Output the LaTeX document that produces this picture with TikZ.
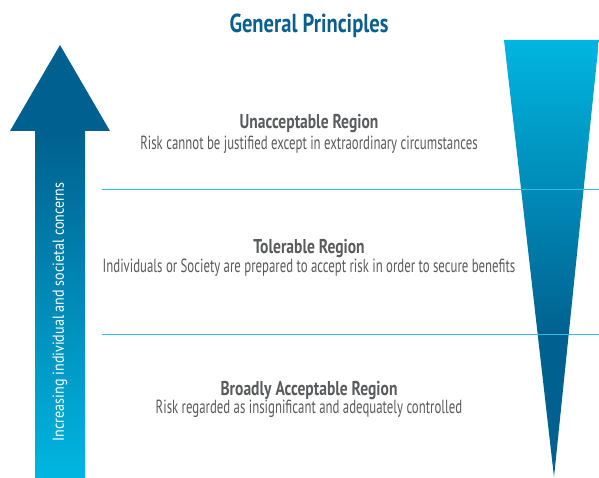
\documentclass[tikz,border=0pt]{standalone}
\usepackage{fontspec}
\setmainfont{PT Sans}
\newfontfamily\condf[FakeStretch=0.674]{PT Sans}
\newfontfamily\condb[FakeStretch=0.777]{PT Sans Bold}
\newfontfamily\titlef[FakeStretch=0.79]{PT Sans Bold}
\newfontfamily\axisf[FakeStretch=0.88]{PT Sans}
\definecolor{darkb}{HTML}{00608F}
\definecolor{cyanl}{HTML}{00B6E0}
\definecolor{txtc}{HTML}{5A5B5D}
\definecolor{linec}{HTML}{2BBDE3}
\definecolor{titlec}{HTML}{0B5F8E}
\pgfdeclareverticalshading{trishade}{100bp}{color(0bp)=(darkb); color(25bp)=(darkb); color(41bp)=(darkb); color(75bp)=(cyanl); color(100bp)=(cyanl)}
\tikzset{
  head/.style={font=\condb\fontsize{20}{22}\selectfont, text=txtc, anchor=base, inner sep=0pt},
  sub/.style={font=\condf\fontsize{19}{22}\selectfont, text=txtc, anchor=base, inner sep=0pt},
  sep/.style={draw=linec, line width=1.3pt}
}
\begin{document}
\begin{tikzpicture}[x=1pt,y=-1pt]
\useasboundingbox (0,0) rectangle (599,478);
% right triangle
\shade[shading=trishade] (504,40) -- (599,40) -- (554,477) -- cycle;
% left arrow
\fill[darkb] (10,131) -- (60,45) -- (110,131) -- cycle;
\shade[top color=darkb, bottom color=cyanl] (35,130.5) rectangle (85,477);
\node[rotate=90, text=white, font=\axisf\fontsize{16}{18}\selectfont, inner sep=0pt] (axis) at (60,312) {Increasing individual and societal concerns};
% separators
\coordinate (l1a) at (102,189.5); \coordinate (l1b) at (599,189.5);
\coordinate (l2a) at (102,334.5); \coordinate (l2b) at (599,334.5);
\draw[sep] (l1a) -- (l1b);
\draw[sep] (l2a) -- (l2b);
% title
\node[font=\titlef\fontsize{26}{28}\selectfont, text=titlec, anchor=base, inner sep=0pt] (title) at (309,33) {General Principles};
% regions
\node[head] (u1) at (309,129) {Unacceptable Region};
\node[sub] (u2) at (309,150) {Risk cannot be justified except in extraordinary circumstances};
\node[head] (t1) at (309,253) {Tolerable Region};
\node[sub] (t2) at (309,272) {Individuals or Society are prepared to accept risk in order to secure benefits};
\node[head] (b1) at (309,395) {Broadly Acceptable Region};
\node[sub] (b2) at (309,413) {Risk regarded as insignificant and adequately controlled};
\end{tikzpicture}
\end{document}
